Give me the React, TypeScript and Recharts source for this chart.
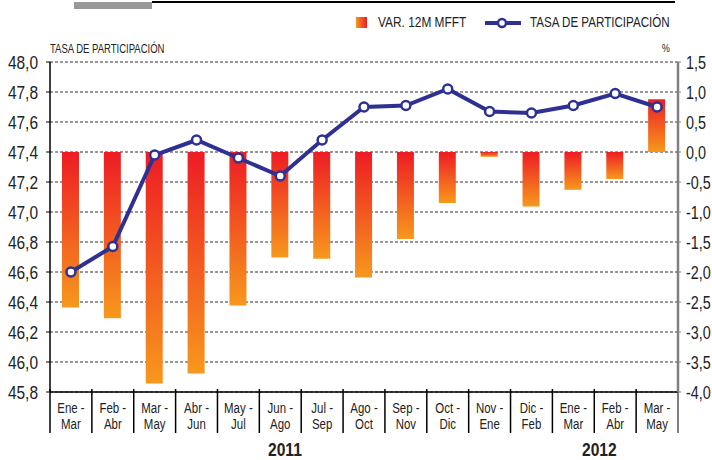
import { ComposedChart, Bar, Line, XAxis, YAxis, CartesianGrid } from 'recharts';

const categories = ['Ene - Mar', 'Feb - Abr', 'Mar - May', 'Abr - Jun', 'May - Jul', 'Jun - Ago', 'Jul - Sep', 'Ago - Oct', 'Sep - Nov', 'Oct - Dic', 'Nov - Ene', 'Dic - Feb', 'Ene - Mar', 'Feb - Abr', 'Mar - May'];
const var12m = [-2.59, -2.77, -3.86, -3.69, -2.56, -1.76, -1.78, -2.09, -1.45, -0.85, -0.08, -0.91, -0.63, -0.45, 0.88];
const tasa = [46.6, 46.77, 47.38, 47.48, 47.36, 47.24, 47.48, 47.7, 47.71, 47.82, 47.67, 47.66, 47.71, 47.79, 47.7];
const leftTicks = [45.8, 46.0, 46.2, 46.4, 46.6, 46.8, 47.0, 47.2, 47.4, 47.6, 47.8, 48.0];
const rightTicks = [-4, -3.5, -3, -2.5, -2, -1.5, -1, -0.5, 0, 0.5, 1, 1.5];

const data = categories.map((c, i) => ({ cat: c, var12m: var12m[i], tasa: tasa[i] }));

const FONT = '"Liberation Sans", Arial, sans-serif';
const BLUE = '#2E3192';
const fmt = (v: number) => v.toFixed(1).replace('.', ',');
const STEP = 628 / categories.length;

// condensed look: regular sans squeezed horizontally
const SText = ({ x, y, scale, anchor, size, weight, children }: any) => (
  <text
    transform={`translate(${x},${y}) scale(${scale},1)`}
    textAnchor={anchor}
    fontFamily={FONT}
    fontSize={size}
    fontWeight={weight || 'normal'}
    fill="#222"
  >
    {children}
  </text>
);

const CatTick = (props: any) => {
  const { x, y, payload, index } = props;
  const [a, b] = String(payload.value).split(' - ');
  const half = STEP / 2;
  return (
    <g>
      <line x1={x - half} x2={x - half} y1={y - 3} y2={y + 41} stroke="#000" strokeWidth={1.5} />
      {index === categories.length - 1 && (
        <line x1={x + half} x2={x + half} y1={y} y2={y + 41} stroke="#555" strokeWidth={1.5} />
      )}
      <SText x={x} y={y + 21} scale={0.74} anchor="middle" size={15.5}>{a + ' -'}</SText>
      <SText x={x} y={y + 37} scale={0.74} anchor="middle" size={15.5}>{b}</SText>
    </g>
  );
};

const LeftTick = ({ x, y, payload }: any) => (
  <SText x={x} y={y + 6.5} scale={0.86} anchor="end" size={18}>{fmt(payload.value)}</SText>
);

const RightTick = ({ x, y, payload }: any) => (
  <SText x={x} y={y + 6.5} scale={0.8} anchor="start" size={18}>{fmt(payload.value)}</SText>
);

const Squeezed = ({ left, top, scale, size, weight, children }: any) => (
  <div
    style={{
      position: 'absolute',
      left,
      top,
      whiteSpace: 'nowrap',
      fontFamily: FONT,
      fontSize: size,
      fontWeight: weight || 'normal',
      color: '#222',
      transform: `scaleX(${scale})`,
      transformOrigin: 'left top',
      lineHeight: 1,
    }}
  >
    {children}
  </div>
);

export default function App() {
  return (
    <div style={{ position: 'absolute', left: 0, top: 0, width: 712, height: 460, background: '#fff' }}>
      <div style={{ position: 'absolute', left: 74, top: 2, width: 78, height: 7, background: '#999' }} />
      <div style={{ position: 'absolute', left: 152, top: 1, width: 523, height: 2, background: '#000' }} />

      {/* legend */}
      <div style={{ position: 'absolute', left: 356, top: 17, width: 11, height: 11, background: 'linear-gradient(to right, #F7981D, #ED1C24)' }} />
      <Squeezed left={378} top={15} scale={0.82} size={14.5}>VAR. 12M MFFT</Squeezed>
      <svg width={36} height={12} style={{ position: 'absolute', left: 485, top: 17 }}>
        <line x1={0} x2={36} y1={6} y2={6} stroke={BLUE} strokeWidth={4} />
        <circle cx={17} cy={6} r={4} fill="#fff" stroke={BLUE} strokeWidth={2.5} />
      </svg>
      <Squeezed left={530} top={15} scale={0.8} size={14.5}>TASA DE PARTICIPACIÓN</Squeezed>

      <ComposedChart width={712} height={460} data={data} margin={{ top: 62, right: 0, left: 0, bottom: 0 }}>
        <defs>
          <linearGradient id="barGrad" x1="0" y1="0" x2="0" y2="1">
            <stop offset="0%" stopColor="#ED1C24" />
            <stop offset="100%" stopColor="#F7981D" />
          </linearGradient>
        </defs>
        <CartesianGrid yAxisId="left" vertical={false} stroke="#333" strokeDasharray="3 2" />
        <XAxis dataKey="cat" height={68} interval={0} tickLine={false} tickSize={0} tickMargin={0} axisLine={{ stroke: '#000', strokeWidth: 1.5 }} tick={<CatTick />} />
        <YAxis
          yAxisId="left"
          width={50}
          domain={[45.8, 48]}
          ticks={leftTicks}
          tickSize={4}
          tickMargin={8}
          axisLine={{ stroke: '#000', strokeWidth: 1.5 }}
          tickLine={{ stroke: '#000' }}
          tick={<LeftTick />}
        />
        <YAxis
          yAxisId="right"
          orientation="right"
          width={34}
          domain={[-4, 1.5]}
          ticks={rightTicks}
          tickSize={3}
          tickMargin={5}
          axisLine={{ stroke: '#808080', strokeWidth: 2.5 }}
          tickLine={{ stroke: '#808080' }}
          tick={<RightTick />}
        />
        <Bar yAxisId="right" dataKey="var12m" barSize={17} fill="url(#barGrad)" isAnimationActive={false} />
        <Line
          yAxisId="left"
          dataKey="tasa"
          type="linear"
          stroke={BLUE}
          strokeWidth={4}
          dot={{ r: 4.5, fill: '#fff', stroke: BLUE, strokeWidth: 2.5 }}
          isAnimationActive={false}
        />
      </ComposedChart>

      <Squeezed left={50} top={43} scale={0.76} size={12.5}>TASA DE PARTICIPACIÓN</Squeezed>
      <Squeezed left={662} top={43} scale={0.8} size={11}>%</Squeezed>
      <Squeezed left={268} top={440} scale={0.82} size={19} weight="bold">2011</Squeezed>
      <Squeezed left={582} top={440} scale={0.82} size={19} weight="bold">2012</Squeezed>
    </div>
  );
}
